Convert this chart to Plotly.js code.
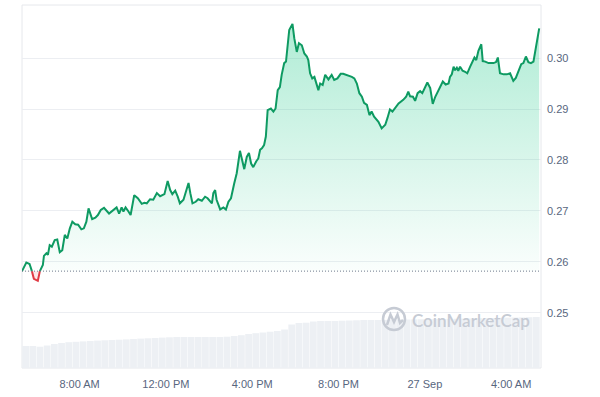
<!DOCTYPE html>
<html>
<head>
<meta charset="utf-8">
<script src="https://cdn.plot.ly/plotly-3.0.1.min.js"></script>
<style>html,body{margin:0;padding:0;background:#fff;}#chart{width:600px;height:397px;}</style>
</head>
<body>
<div id="chart"></div>
<script>
const openPrice = 0.2582;

const priceTimes = [
"2024-09-26 05:20","2024-09-26 05:32","2024-09-26 05:41","2024-09-26 05:48","2024-09-26 05:53","2024-09-26 06:04","2024-09-26 06:09","2024-09-26 06:18","2024-09-26 06:21","2024-09-26 06:28",
"2024-09-26 06:32","2024-09-26 06:37","2024-09-26 06:43","2024-09-26 06:51","2024-09-26 06:58","2024-09-26 07:05","2024-09-26 07:12","2024-09-26 07:19","2024-09-26 07:26","2024-09-26 07:33",
"2024-09-26 07:40","2024-09-26 07:48","2024-09-26 07:56","2024-09-26 08:05","2024-09-26 08:12","2024-09-26 08:19","2024-09-26 08:25","2024-09-26 08:35","2024-09-26 08:44","2024-09-26 08:51",
"2024-09-26 08:59","2024-09-26 09:08","2024-09-26 09:22","2024-09-26 09:34","2024-09-26 09:43","2024-09-26 09:50","2024-09-26 09:57","2024-09-26 10:02","2024-09-26 10:08","2024-09-26 10:16",
"2024-09-26 10:22","2024-09-26 10:32","2024-09-26 10:42","2024-09-26 10:53","2024-09-26 11:00","2024-09-26 11:07","2024-09-26 11:16","2024-09-26 11:25","2024-09-26 11:35","2024-09-26 11:44",
"2024-09-26 11:56","2024-09-26 12:05","2024-09-26 12:12","2024-09-26 12:18","2024-09-26 12:26","2024-09-26 12:33","2024-09-26 12:39","2024-09-26 12:49","2024-09-26 12:56","2024-09-26 13:03",
"2024-09-26 13:08","2024-09-26 13:14","2024-09-26 13:23","2024-09-26 13:30","2024-09-26 13:40","2024-09-26 13:49","2024-09-26 13:56","2024-09-26 14:03","2024-09-26 14:08","2024-09-26 14:12",
"2024-09-26 14:17","2024-09-26 14:21","2024-09-26 14:31","2024-09-26 14:40","2024-09-26 14:47","2024-09-26 14:54","2024-09-26 15:01","2024-09-26 15:10","2024-09-26 15:17","2024-09-26 15:26",
"2024-09-26 15:31","2024-09-26 15:38","2024-09-26 15:45","2024-09-26 15:51","2024-09-26 15:57","2024-09-26 16:03","2024-09-26 16:11","2024-09-26 16:17","2024-09-26 16:22","2024-09-26 16:27",
"2024-09-26 16:33","2024-09-26 16:38","2024-09-26 16:43","2024-09-26 16:52","2024-09-26 16:59","2024-09-26 17:05","2024-09-26 17:11","2024-09-26 17:17","2024-09-26 17:22","2024-09-26 17:29",
"2024-09-26 17:34","2024-09-26 17:39","2024-09-26 17:43","2024-09-26 17:52","2024-09-26 17:57","2024-09-26 18:04","2024-09-26 18:10","2024-09-26 18:18","2024-09-26 18:25","2024-09-26 18:32",
"2024-09-26 18:36","2024-09-26 18:41","2024-09-26 18:47","2024-09-26 18:53","2024-09-26 18:58","2024-09-26 19:04","2024-09-26 19:09","2024-09-26 19:16","2024-09-26 19:23","2024-09-26 19:32",
"2024-09-26 19:41","2024-09-26 19:48","2024-09-26 19:57","2024-09-26 20:06","2024-09-26 20:13","2024-09-26 20:23","2024-09-26 20:37","2024-09-26 20:44","2024-09-26 20:51","2024-09-26 20:58",
"2024-09-26 21:05","2024-09-26 21:11","2024-09-26 21:19","2024-09-26 21:26","2024-09-26 21:32","2024-09-26 21:39","2024-09-26 21:51","2024-09-26 22:00","2024-09-26 22:10","2024-09-26 22:16",
"2024-09-26 22:23","2024-09-26 22:30","2024-09-26 22:37","2024-09-26 22:47","2024-09-26 23:00","2024-09-26 23:08","2024-09-26 23:14","2024-09-26 23:19","2024-09-26 23:27","2024-09-26 23:33",
"2024-09-26 23:40","2024-09-26 23:47","2024-09-26 23:53","2024-09-27 00:01","2024-09-27 00:07","2024-09-27 00:15","2024-09-27 00:22","2024-09-27 00:29","2024-09-27 00:36","2024-09-27 00:43",
"2024-09-27 00:50","2024-09-27 00:58","2024-09-27 01:06","2024-09-27 01:10","2024-09-27 01:15","2024-09-27 01:20","2024-09-27 01:24","2024-09-27 01:29","2024-09-27 01:33","2024-09-27 01:38",
"2024-09-27 01:45","2024-09-27 01:52","2024-09-27 01:58","2024-09-27 02:06","2024-09-27 02:12","2024-09-27 02:18","2024-09-27 02:23","2024-09-27 02:29","2024-09-27 02:37","2024-09-27 02:41",
"2024-09-27 02:48","2024-09-27 02:57","2024-09-27 03:11","2024-09-27 03:18","2024-09-27 03:23","2024-09-27 03:29","2024-09-27 03:39","2024-09-27 03:48","2024-09-27 03:57","2024-09-27 04:06",
"2024-09-27 04:13","2024-09-27 04:20","2024-09-27 04:28","2024-09-27 04:34","2024-09-27 04:41","2024-09-27 04:48","2024-09-27 04:55","2024-09-27 05:02","2024-09-27 05:09","2024-09-27 05:18"
];

const priceValues = [
0.2582,0.2599,0.2596,0.2581,0.2567,0.2563,0.2581,0.2594,0.2612,0.2617,
0.2614,0.2633,0.2630,0.2643,0.2644,0.2619,0.2623,0.2653,0.2646,0.2666,
0.2679,0.2674,0.2673,0.2664,0.2666,0.2679,0.2705,0.2684,0.2687,0.2692,
0.2702,0.2706,0.2695,0.2702,0.2707,0.2695,0.2707,0.2699,0.2707,0.2699,
0.2692,0.2731,0.2725,0.2714,0.2716,0.2715,0.2723,0.2722,0.2735,0.2729,
0.2733,0.2759,0.2741,0.2733,0.2740,0.2728,0.2715,0.2722,0.2741,0.2755,
0.2735,0.2715,0.2718,0.2723,0.2720,0.2728,0.2725,0.2718,0.2715,0.2735,
0.2741,0.2722,0.2703,0.2707,0.2703,0.2718,0.2725,0.2754,0.2774,0.2818,
0.2800,0.2782,0.2806,0.2814,0.2793,0.2786,0.2797,0.2803,0.2820,0.2823,
0.2829,0.2846,0.2898,0.2901,0.2895,0.2901,0.2937,0.2943,0.2967,0.2990,
0.2993,0.3032,0.3055,0.3067,0.3039,0.3012,0.3029,0.3025,0.3009,0.3003,
0.2996,0.2970,0.2960,0.2963,0.2949,0.2937,0.2950,0.2947,0.2967,0.2958,
0.2967,0.2957,0.2960,0.2969,0.2969,0.2967,0.2963,0.2960,0.2950,0.2931,
0.2924,0.2912,0.2908,0.2888,0.2895,0.2885,0.2875,0.2862,0.2869,0.2882,
0.2899,0.2895,0.2901,0.2911,0.2918,0.2924,0.2934,0.2925,0.2924,0.2916,
0.2931,0.2935,0.2931,0.2944,0.2952,0.2941,0.2910,0.2924,0.2934,0.2944,
0.2954,0.2948,0.2950,0.2963,0.2968,0.2983,0.2976,0.2981,0.2975,0.2983,
0.2975,0.2973,0.2970,0.2983,0.2993,0.3001,0.2996,0.3014,0.3027,0.2994,
0.2993,0.2990,0.2990,0.2992,0.3001,0.2970,0.2968,0.2968,0.2970,0.2955,
0.2961,0.2973,0.2988,0.2990,0.3003,0.2992,0.2990,0.2993,0.3022,0.3058
];

// 20-minute volume bars (millions, relative)
const volumeStart = "2024-09-26 05:30";
const volumeStepMinutes = 20;
const volumeValues = [
2.20,2.20,2.13,2.25,2.40,2.50,2.58,2.62,2.66,2.70,
2.74,2.77,2.80,2.83,2.86,2.90,2.94,2.97,3.00,3.04,
3.07,3.10,3.10,3.10,3.10,3.10,3.10,3.10,3.13,3.20,
3.28,3.40,3.48,3.55,3.63,3.70,3.85,4.35,4.50,4.53,
4.65,4.70,4.70,4.70,4.73,4.75,4.77,4.80,4.80,4.80,
4.81,4.82,4.83,4.85,4.86,4.87,4.88,4.90,4.90,4.92,
4.93,4.95,4.96,4.98,5.00,5.00,5.02,5.03,5.05,5.06,
5.08,5.10
];

const yTickVals = [0.25,0.26,0.27,0.28,0.29,0.30];
const xTickTimes = ["2024-09-26 08:00","2024-09-26 12:00","2024-09-26 16:00","2024-09-26 20:00","2024-09-27 00:00","2024-09-27 04:00"];
const xTickLabels = ["8:00 AM","12:00 PM","4:00 PM","8:00 PM","27 Sep","4:00 AM"];

function toMs(s){
  const [d,t]=s.split(' ');
  const [Y,M,D]=d.split('-').map(Number);
  const [h,m]=t.split(':').map(Number);
  return Date.UTC(Y,M-1,D,h,m);
}

// insert crossing points with the open-price baseline
const xs=[], ys=[];
for(let i=0;i<priceValues.length;i++){
  const t=toMs(priceTimes[i]), v=priceValues[i];
  if(i>0){
    const t0=toMs(priceTimes[i-1]), v0=priceValues[i-1];
    if((v0-openPrice)*(v-openPrice)<0){
      const f=(openPrice-v0)/(v-v0);
      xs.push(t0+f*(t-t0)); ys.push(openPrice);
    }
  }
  xs.push(t); ys.push(v);
}
const eps=1e-9;
const upY = ys.map(v=>Math.max(v,openPrice));
const dnY = ys.map(v=>Math.min(v,openPrice));
const upLine = ys.map(v=> v>=openPrice-eps ? v : null);
const dnLine = ys.map(v=> v<=openPrice+eps ? v : null);
const baseY = ys.map(()=>openPrice);

const volX = volumeValues.map((_,i)=>toMs(volumeStart)+i*volumeStepMinutes*60000);

const green='#0e9a62', red='#e03a44';
const tickFont={family:'"Liberation Sans", Arial, sans-serif', size:11, color:'#58667e'};

const traces=[
  {x:volX, y:volumeValues, type:'bar', yaxis:'y2', marker:{color:'#edf0f4', line:{width:0}}, hoverinfo:'skip'},
  {x:xs, y:baseY, type:'scatter', mode:'lines', line:{width:0}, hoverinfo:'skip', showlegend:false},
  {x:xs, y:upY, type:'scatter', mode:'lines', line:{width:0}, fill:'tonexty',
   fillgradient:{type:'vertical', start:openPrice, stop:0.3067,
     colorscale:[[0,'rgba(22,199,132,0.02)'],[1,'rgba(22,199,132,0.34)']]}, hoverinfo:'skip'},
  {x:xs, y:baseY, type:'scatter', mode:'lines', line:{width:0}, hoverinfo:'skip'},
  {x:xs, y:dnY, type:'scatter', mode:'lines', line:{width:0}, fill:'tonexty', fillcolor:'rgba(234,57,67,0.12)', hoverinfo:'skip'},
  {x:xs, y:upLine, type:'scatter', mode:'lines', line:{color:green, width:2}, connectgaps:false},
  {x:xs, y:dnLine, type:'scatter', mode:'lines', line:{color:red, width:2}, connectgaps:false}
];

const px=(p)=>(p-22)/519, py=(p)=>(368-p)/363;

const layout={
  width:600, height:397,
  margin:{l:22, r:59, t:5, b:29, pad:0},
  paper_bgcolor:'#ffffff', plot_bgcolor:'#ffffff',
  showlegend:false, bargap:0.06,
  xaxis:{type:'date', range:[toMs("2024-09-26 05:20"), toMs("2024-09-27 05:23")],
    tickvals:xTickTimes.map(toMs), ticktext:xTickLabels, showgrid:false, zeroline:false,
    showline:false, ticks:'', tickfont:tickFont, ticklabelstandoff:8, fixedrange:true},
  yaxis:{range:[0.2392,0.3104], side:'right', tickvals:yTickVals, tickformat:'.2f',
    showgrid:true, gridcolor:'#eceef2', gridwidth:1, zeroline:false, showline:false, ticks:'',
    tickfont:tickFont, ticklabelstandoff:5, fixedrange:true},
  yaxis2:{range:[0,36.3], overlaying:'y', visible:false, fixedrange:true},
  shapes:[
    {type:'rect', xref:'paper', yref:'paper', x0:0, x1:1, y0:0, y1:1, line:{color:'#e6e8ec', width:1}, layer:'below'},
    {type:'line', xref:'paper', yref:'y', x0:0, x1:1, y0:openPrice, y1:openPrice, line:{color:'#6f7a8c', width:1, dash:'1px,2px'}},
    {type:'circle', xref:'paper', yref:'paper', x0:px(383), x1:px(405), y0:py(330), y1:py(308), line:{color:'#c6cbd4', width:2.5}},
    {type:'path', xref:'paper', yref:'paper', path:`M ${px(387)} ${py(325)} L ${px(390.5)} ${py(314.5)} L ${px(394)} ${py(322)} L ${px(397.5)} ${py(314.5)} L ${px(400)} ${py(323)} L ${px(403)} ${py(320)}`, line:{color:'#c6cbd4', width:2.5}}
  ],
  annotations:[
    {xref:'paper', yref:'paper', x:px(471), y:py(320), text:'CoinMarketCap', showarrow:false,
     xanchor:'center', yanchor:'middle', font:{family:'Lato, "Open Sans", sans-serif', size:17, color:'#c6cbd4', weight:600}}
  ]
};

Plotly.newPlot('chart', traces, layout, {displayModeBar:false, staticPlot:true});
</script>
</body>
</html>
